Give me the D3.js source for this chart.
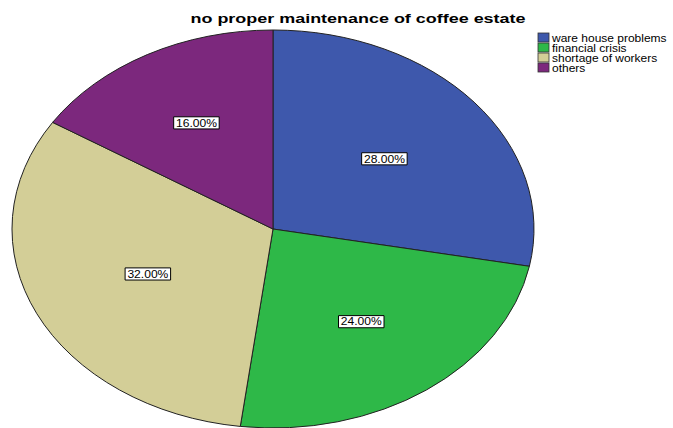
<!DOCTYPE html>
<html>
<head>
<meta charset="utf-8">
<script src="https://cdn.jsdelivr.net/npm/d3@7"></script>
<style>
  html, body { margin: 0; padding: 0; background: #fff; }
  svg { display: block; font-family: "Liberation Sans", Arial, sans-serif; }
</style>
</head>
<body>
<svg id="chart" width="673" height="428"></svg>
<script>
// Reasons for poor upkeep of coffee estates (percent of respondents)
const categories = ["ware house problems", "financial crisis", "shortage of workers", "others"];
const values = [28, 24, 32, 16];
const colors = ["#3E58AC", "#2EB848", "#D3CE97", "#7C287D"];
const title = "no proper maintenance of coffee estate";

const svg = d3.select("#chart");
const cx = 273, cy = 229, rx = 261, ry = 199;
const stretch = 1.15; // text is rendered slightly wide, like the pie

const pie = d3.pie().sort(null).value(d => d)(values);
const arc = d3.arc().innerRadius(0).outerRadius(ry);

// pie is drawn on a circle and stretched horizontally into an ellipse
const g = svg.append("g").attr("transform", `translate(${cx},${cy}) scale(${rx / ry},1)`);
g.selectAll("path")
  .data(pie)
  .join("path")
  .attr("d", arc)
  .attr("fill", (d, i) => colors[i])
  .attr("stroke", "#222")
  .attr("stroke-width", 1)
  .attr("vector-effect", "non-scaling-stroke");

// percentage labels near the centroid of each sector
const labels = svg.append("g");
pie.forEach((d, i) => {
  const a = d.endAngle - d.startAngle;
  const mid = (d.startAngle + d.endAngle) / 2;
  const k = 4 * Math.sin(a / 2) / (3 * a) - 0.03;
  const x = cx + rx * k * Math.sin(mid);
  const y = cy - ry * k * Math.cos(mid);
  const txt = d3.format(".2f")(values[i]) + "%";
  const lg = labels.append("g").attr("transform", `translate(${x},${y}) scale(${stretch},1)`);
  const t = lg.append("text")
    .attr("text-anchor", "middle")
    .attr("dy", "0.36em")
    .attr("font-size", 10.5)
    .attr("fill", "#000")
    .text(txt);
  const bb = t.node().getBBox();
  lg.insert("rect", "text")
    .attr("x", bb.x - 2)
    .attr("y", bb.y - 0.5)
    .attr("width", bb.width + 4)
    .attr("height", bb.height + 1)
    .attr("fill", "#fff")
    .attr("stroke", "#000")
    .attr("stroke-width", 1)
    .attr("vector-effect", "non-scaling-stroke");
});

// title
svg.append("text")
  .attr("x", 358)
  .attr("y", 23)
  .attr("text-anchor", "middle")
  .attr("font-size", 13.5)
  .attr("font-weight", "bold")
  .attr("fill", "#000")
  .attr("textLength", 335)
  .attr("lengthAdjust", "spacingAndGlyphs")
  .text(title);

// legend
const legend = svg.append("g").attr("transform", "translate(538,33)");
const row = d3.scaleBand().domain(categories).range([0, 40]);
categories.forEach((c, i) => {
  const y = row(c);
  legend.append("rect")
    .attr("x", 0).attr("y", y)
    .attr("width", 11).attr("height", 9)
    .attr("fill", colors[i])
    .attr("stroke", "#333").attr("stroke-width", 0.8);
  legend.append("text")
    .attr("transform", `translate(14,${y + 8.5}) scale(1.2,1)`)
    .attr("font-size", 10)
    .attr("fill", "#000")
    .text(c);
});
</script>
</body>
</html>
